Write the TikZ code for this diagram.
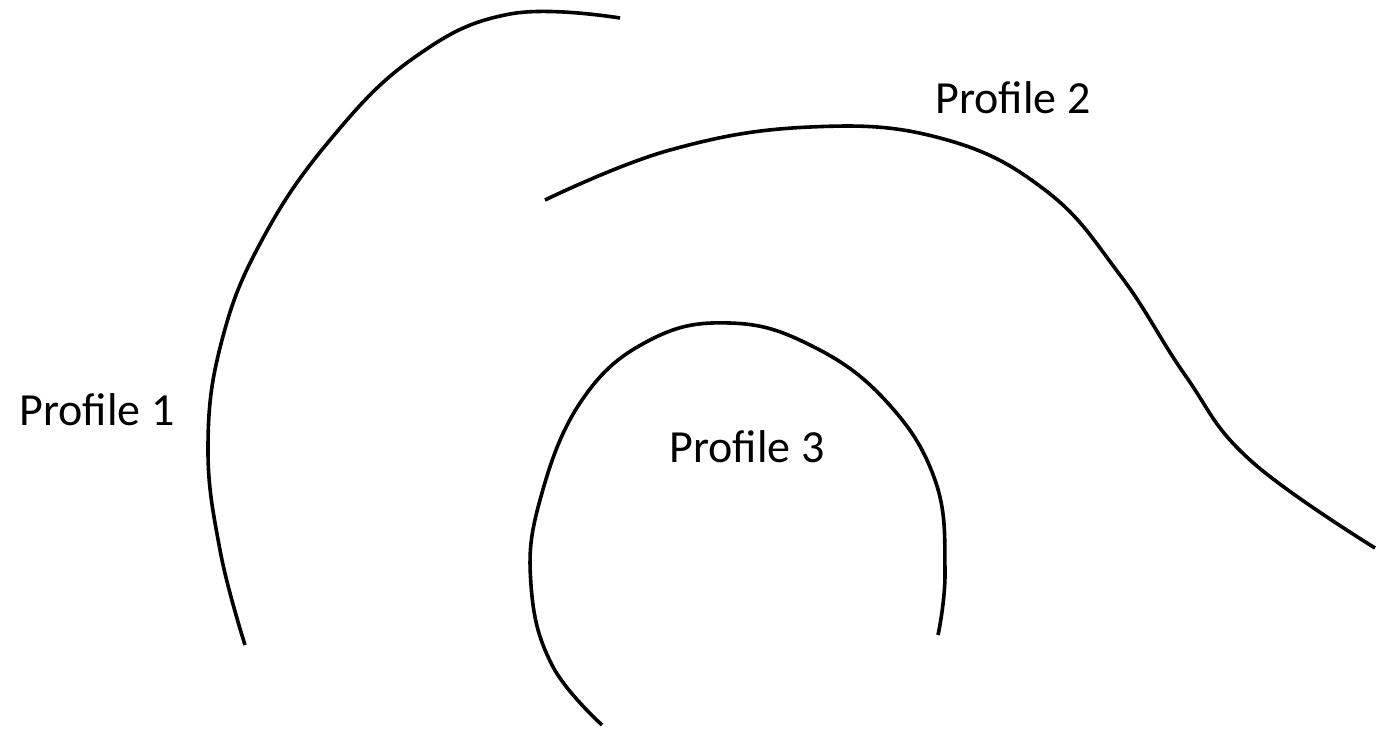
\documentclass[tikz,border=0pt]{standalone}
\usepackage{fontspec}
\setmainfont{Carlito}
\begin{document}
\begin{tikzpicture}[x=1pt,y=-1pt,
  profile/.style={line width=3.6pt,line cap=butt,black},
  lbl/.style={font=\fontsize{46}{50}\selectfont,inner sep=0pt}]
\useasboundingbox (0,0) rectangle (1378,732);
% Profile 1
\draw[profile] plot[smooth,tension=0.7] coordinates {
  (245,645) (220,550) (208,445) (222,340) (262,240) (330,140)
  (415,57) (510,14) (620,18)};
% Profile 2
\draw[profile] plot[smooth,tension=0.7] coordinates {
  (545,200) (670,150) (810,127) (940,138) (1045,190)
  (1120,275) (1185,375) (1250,460) (1375,548)};
% Profile 3
\draw[profile] plot[smooth,tension=0.7] coordinates {
  (602,725) (552,665) (531,585) (540,500) (582,400)
  (650,340) (730,323) (810,345) (885,400) (935,480)
  (945,570) (938,635)};
\node[lbl] (p1) at (97,410) {Profile 1};
\node[lbl] (p2) at (1013,98) {Profile 2};
\node[lbl] (p3) at (747,447) {Profile 3};
\end{tikzpicture}
\end{document}
